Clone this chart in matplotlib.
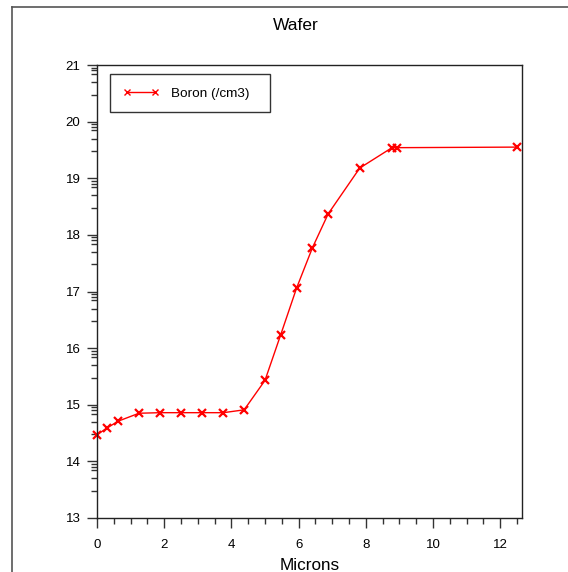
import numpy as np
import matplotlib
matplotlib.use("Agg")
import matplotlib.pyplot as plt
from matplotlib.lines import Line2D

plt.rcParams['font.family'] = ['Liberation Sans', 'DejaVu Sans']

# Data
microns = [0.0, 0.30, 0.63, 1.25, 1.88, 2.50, 3.13, 3.76, 4.38, 5.00,
           5.47, 5.94, 6.41, 6.88, 7.82, 8.78, 8.92, 12.50]
boron = [14.47, 14.59, 14.71, 14.85, 14.86, 14.86, 14.86, 14.86, 14.91, 15.43,
         16.24, 17.06, 17.77, 18.37, 19.18, 19.54, 19.54, 19.55]
series_label = "Boron (/cm3)"
title = "Wafer"
xlabel = "Microns"
xticks = [0, 2, 4, 6, 8, 10, 12]
yticks = [13, 14, 15, 16, 17, 18, 19, 20, 21]
minor_k = [3, 5, 7, 8, 9]

W, H = 568, 572
fig = plt.figure(figsize=(W / 100, H / 100), dpi=100)
ax = fig.add_axes([97 / W, 1 - 518 / H, (522 - 97) / W, (518 - 65) / H])

ax.plot(microns, boron, color='red', lw=1.0, marker='x', markersize=6,
        markeredgewidth=1.6, label=series_label, clip_on=False)

ax.set_xlim(0, 12.65)
ax.set_ylim(13, 21)
ax.set_xticks(xticks)
ax.set_xticks(np.arange(0, 12.65, 0.5), minor=True)
ax.set_yticks(yticks)
ax.set_yticks([n + np.log10(k) for n in yticks[:-1] for k in minor_k], minor=True)
ax.tick_params(axis='both', which='major', direction='out', length=7, width=1,
               labelsize=9.5, color='#333333')
ax.tick_params(axis='both', which='minor', direction='out', length=4, width=1,
               color='#333333')
ax.tick_params(axis='y', which='major', pad=5)
ax.tick_params(axis='x', which='major', pad=8)
for s in ax.spines.values():
    s.set_linewidth(1.0)
    s.set_color('#222222')

leg = ax.legend(loc='upper left', bbox_to_anchor=(13 / 425, 1 - 14 / 453, 160 / 425, 0.01),
                mode='expand', borderaxespad=0, fontsize=9.7, frameon=True, fancybox=False,
                numpoints=2, handlelength=2.7, handletextpad=0.9, borderpad=0.95)
leg.get_frame().set_edgecolor('black')
leg.get_frame().set_linewidth(1.0)
for h in leg.legend_handles:
    h.set_markersize(5)
    h.set_markeredgewidth(1.0)

fig.text(296 / W, 1 - 25 / H, title, ha='center', va='center', fontsize=12.5)
fig.text(309.5 / W, 1 - 565 / H, xlabel, ha='center', va='center', fontsize=12.3)

# outer frame
fig.add_artist(Line2D([12 / W, 12 / W], [0, 1 - 7 / H], transform=fig.transFigure,
                      color='#555555', lw=1.2))
fig.add_artist(Line2D([12 / W, 1], [1 - 7 / H, 1 - 7 / H], transform=fig.transFigure,
                      color='#555555', lw=1.2))

fig.savefig('out.png', dpi=100)
